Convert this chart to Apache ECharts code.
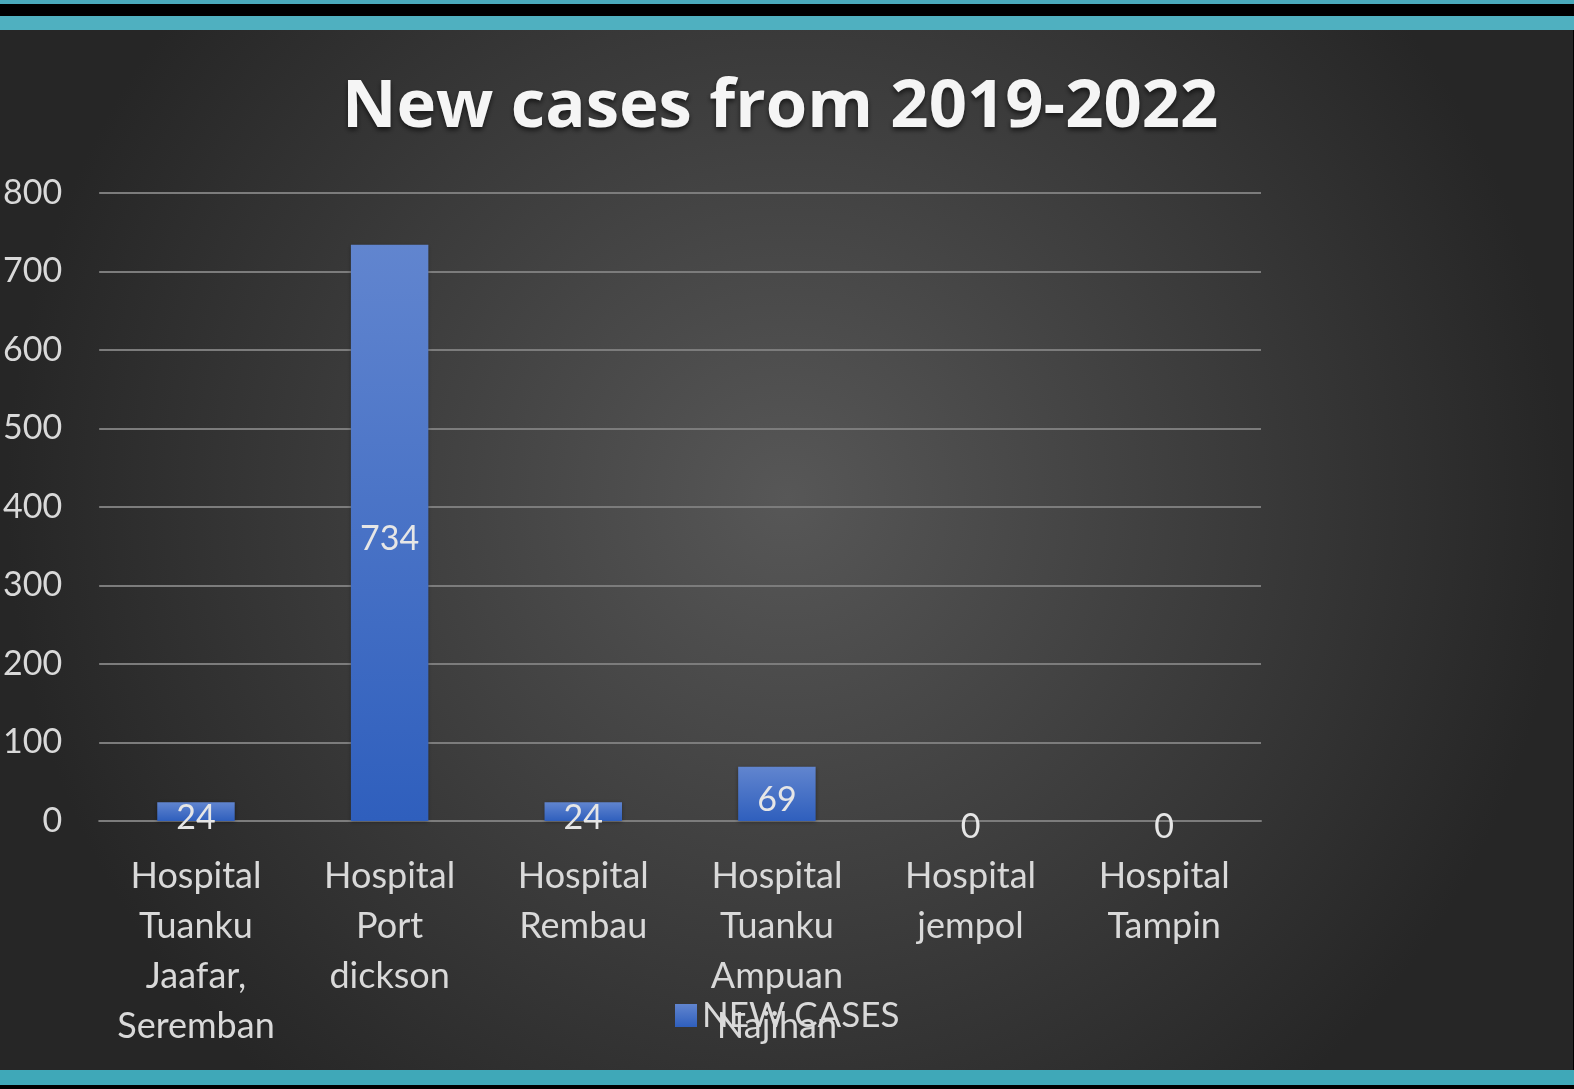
<!DOCTYPE html>
<html><head><meta charset="utf-8">
<script src="https://cdn.jsdelivr.net/npm/echarts@6/dist/echarts.min.js"></script>
<style>
html,body{margin:0;padding:0;width:1574px;height:1089px;overflow:hidden;background:#000;}
#t1{position:absolute;left:0;top:0;width:1574px;height:4px;background:#4aaabb;}
#t2{position:absolute;left:0;top:16px;width:1574px;height:14px;background:#4fb0c0;}
#b1{position:absolute;left:0;top:1070px;width:1574px;height:15px;background:#3fa8b8;}
#chart{position:absolute;left:0;top:30px;width:1573px;height:1040px;}
</style></head>
<body>
<div id="t1"></div><div id="t2"></div><div id="b1"></div>
<div id="chart"></div>
<script>
const titleText = 'New cases from 2019-2022';
const categories = ['Hospital Tuanku Jaafar, Seremban','Hospital Port dickson','Hospital Rembau','Hospital Tuanku Ampuan Najihan','Hospital jempol','Hospital Tampin'];
const seriesName = 'NEW CASES';
const newCases = [24, 734, 24, 69, 0, 0];
const yTicks = {min: 0, max: 800, interval: 100};

const chart = echarts.init(document.getElementById('chart'));
const FONT = 'Lato';
chart.setOption({
  backgroundColor: new echarts.graphic.RadialGradient(0.5, 0.45, 0.75, [
    {offset: 0, color: '#575757'},
    {offset: 1, color: '#262626'}
  ]),
  animation: false,
  title: {
    text: titleText, left: 337, top: 39,
    textStyle: {color: '#f5f5f5', fontFamily: 'Open Sans', fontWeight: 'bold', fontSize: 67,
      textShadowColor: 'rgba(0,0,0,0.6)', textShadowBlur: 5, textShadowOffsetY: 3}
  },
  grid: {left: 99, right: 312, top: 163, bottom: 249, containLabel: false},
  legend: {
    bottom: 32, left: 670, itemWidth: 22, itemHeight: 23, itemGap: 16,
    data: [seriesName],
    textStyle: {color: '#d9d9d9', fontFamily: FONT, fontSize: 35},
    icon: 'rect'
  },
  xAxis: {
    type: 'category', data: categories,
    axisLine: {show: true, lineStyle: {color: '#7c7c7c', width: 2}},
    axisTick: {show: false},
    axisLabel: {color: '#d9d9d9', fontFamily: FONT, fontSize: 36, lineHeight: 50, margin: 30,
      interval: 0, formatter: v => v.split(' ').join('\n')}
  },
  yAxis: {
    type: 'value', min: yTicks.min, max: yTicks.max, interval: yTicks.interval,
    axisLine: {show: false}, axisTick: {show: false},
    splitLine: {lineStyle: {color: '#7c7c7c', width: 2}},
    axisLabel: {color: '#d9d9d9', fontFamily: FONT, fontSize: 34, margin: 37}
  },
  series: [{
    name: seriesName, type: 'bar', data: newCases, barWidth: '40%',
    itemStyle: {
      color: new echarts.graphic.LinearGradient(0, 0, 0, 1, [
        {offset: 0, color: '#6185cf'}, {offset: 1, color: '#2f5fbd'}
      ]),
      shadowColor: 'rgba(0,0,0,0.35)', shadowBlur: 4, shadowOffsetY: 1
    },
    label: {
      show: true, position: 'inside', offset: [0, 6], color: '#e6e6e6',
      fontFamily: FONT, fontSize: 34
    }
  }]
});
</script>
</body></html>
